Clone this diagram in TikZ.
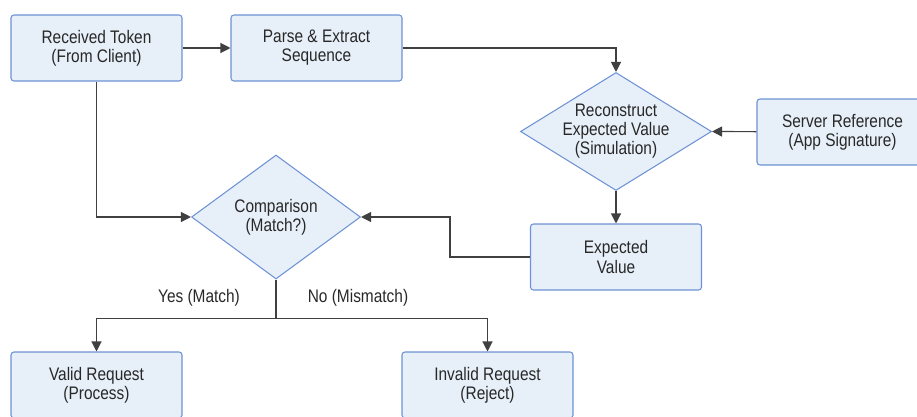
\documentclass[tikz,border=0pt]{standalone}
\usepackage{fontspec}
\setmainfont{Liberation Sans}[FakeStretch=0.85]
\usetikzlibrary{positioning,shapes.geometric,arrows.meta}
\definecolor{BoxFill}{RGB}{231, 239, 248}
\definecolor{BoxBorder}{RGB}{110, 146, 212}
\definecolor{LineGray}{RGB}{64, 64, 64}
\definecolor{TextGray}{RGB}{40, 40, 40}

\begin{document}
\begin{tikzpicture}[x=0.03cm, y=-0.03cm, font=\fontsize{15.5}{16.3}\selectfont, text=TextGray,
  box/.style={rectangle, rounded corners=2.5pt, draw=BoxBorder, fill=BoxFill, line width=0.9pt, minimum width=5.13cm, minimum height=1.98cm, align=center, inner sep=0pt},
  decision/.style={diamond, draw=BoxBorder, fill=BoxFill, line width=0.9pt, align=center, inner sep=-8pt},
  flow/.style={draw=LineGray, line width=1pt, -{Triangle[length=0.3cm, width=0.3cm]}},
  plain/.style={draw=LineGray, line width=1pt}]

\useasboundingbox (0,0) rectangle (917,416);

% top row
\node[box] (recv) at (96.5,48) {Received Token\\(From Client)};
\node[box] (parse) at (316.5,48) {Parse \& Extract\\Sequence};

% right side: simulation
\node[decision, aspect=1.62, minimum width=5.73cm, minimum height=3.54cm] (recon) at (616,131.5) {Reconstruct\\Expected Value\\(Simulation)};
\node[box] (server) at (842.5,132) {Server Reference\\(App Signature)};
\node[box] (expval) at (616,257) {Expected\\Value};

% the check
\node[decision, aspect=1.36, minimum width=5.07cm, minimum height=3.72cm] (comp) at (276,217) {Comparison\\(Match?)};

% outcomes
\node[box] (valid) at (96.5,385) {Valid Request\\(Process)};
\node[box] (invalid) at (487.5,385) {Invalid Request\\(Reject)};

\draw[flow] (recv) -- (parse);
\draw[flow] (parse.east) -| (recon.north);
\draw[flow] (server) -- (recon.east);
\draw[flow] (recon.south) -- (expval.north);
\draw[flow] (expval.west) -- ++(-80,0) |- (comp.east);
\draw[flow] (recv.south) |- (comp.west);

% split below the comparison
\draw[plain] (comp.south) -- ++(0,39) coordinate (split);
\draw[flow] (split) -| (valid.north);
\draw[flow] (split) -| (invalid.north);
\node (yes) at (199,298) {Yes (Match)};
\node (no) at (358,298) {No (Mismatch)};

\end{tikzpicture}
\end{document}
